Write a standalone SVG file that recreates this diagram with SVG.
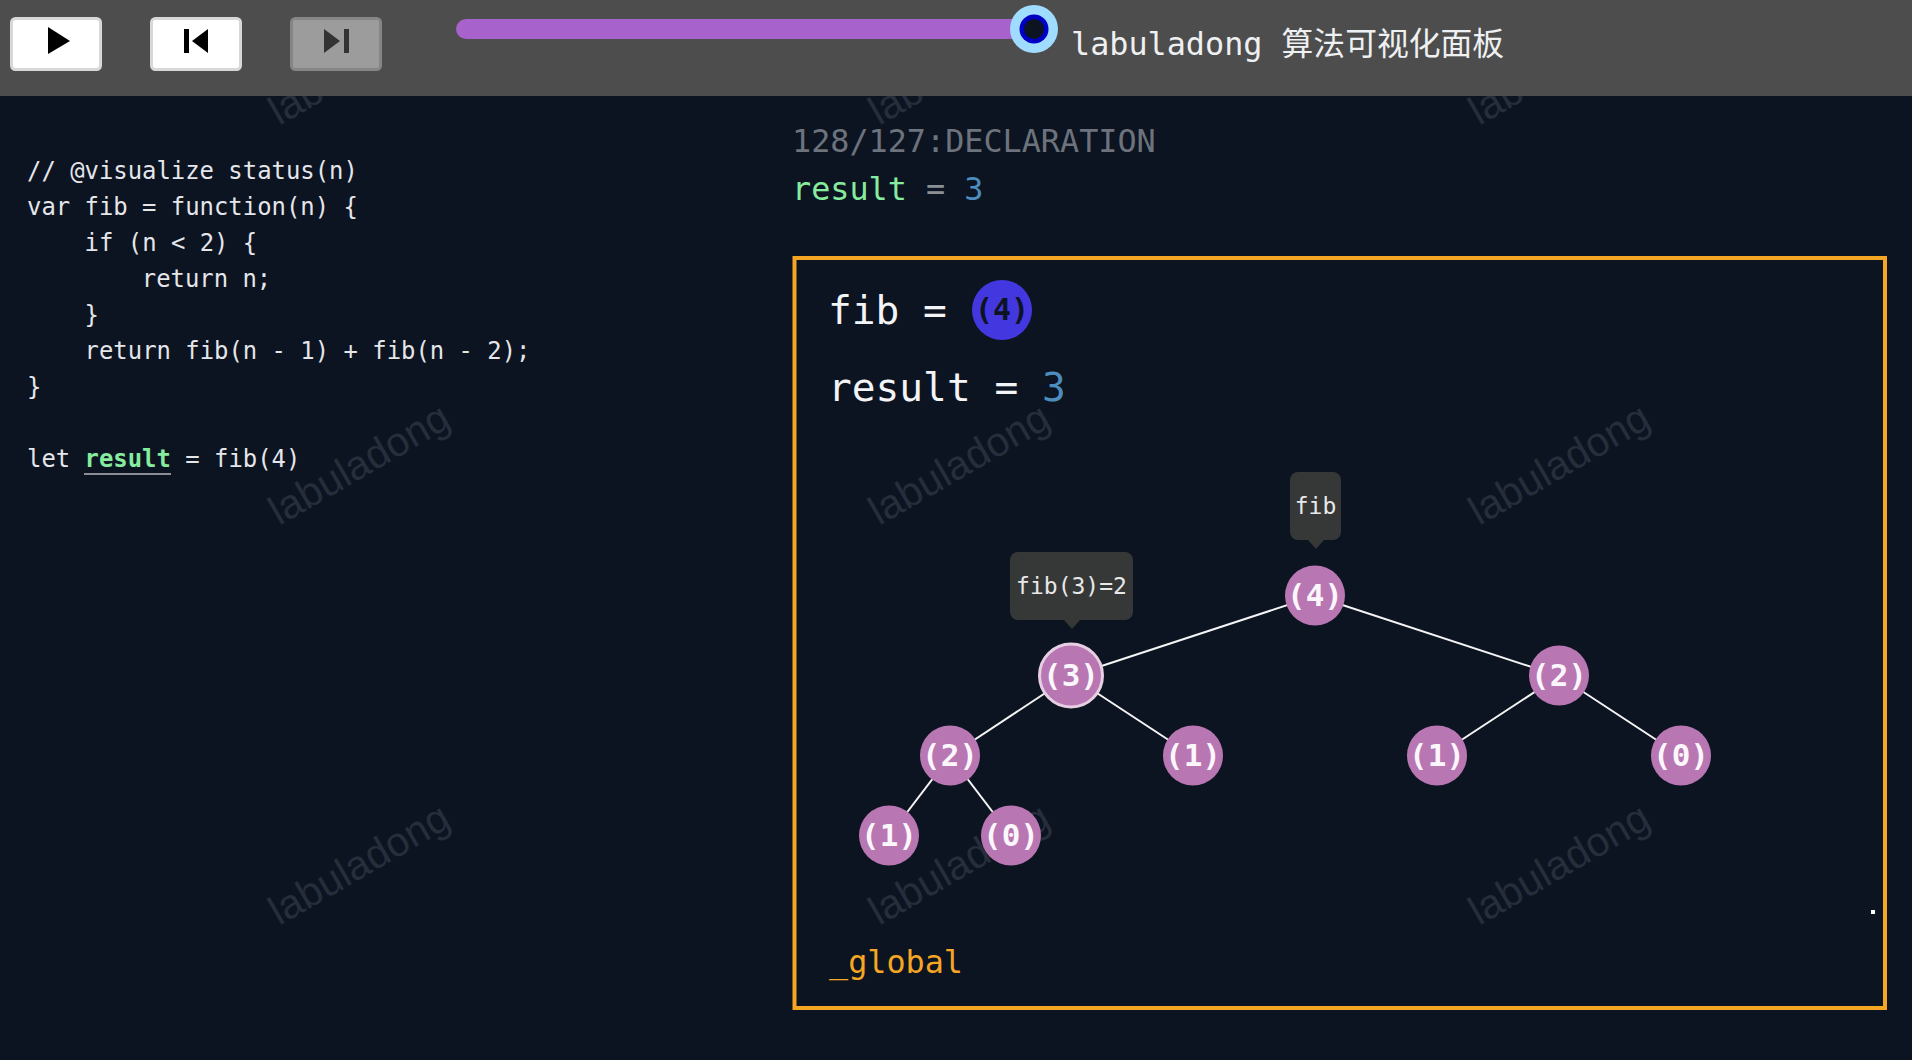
<svg xmlns="http://www.w3.org/2000/svg" width="1912" height="1060" viewBox="0 0 1912 1060">
<style>
text{font-family:"DejaVu Sans Mono","Noto Sans CJK SC",monospace;fill:#eef0f2}
.wm{font-family:"Liberation Sans",sans-serif;font-size:41px;fill:#262d3b}
.code{font-size:23.9px;fill:#e4e6ea}
.big{font-size:39.5px;fill:#f2f4f6}
.mid{font-size:31.8px}
.num{fill:#4d8dbd}
.grn{fill:#86eb9f}
.n circle{fill:#b877b2}
.n text{font-size:31px;font-weight:bold;text-anchor:middle;fill:#fbf6fb}
.tip path{fill:#363838}
.tip text{font-size:23px;text-anchor:middle;fill:#e8e8e8}
.btn{fill:#fff;stroke:#d8d8d8;stroke-width:3}
.edge{stroke:#f4f4f4;stroke-width:2}
</style>
<rect width="1912" height="1060" fill="#0c1321"/>
<g id="watermarks">
<text class="wm" transform="translate(279 126) rotate(-30)">lab</text>
<text class="wm" transform="translate(879 126) rotate(-30)">lab</text>
<text class="wm" transform="translate(1479 126) rotate(-30)">lab</text>
<text class="wm" transform="translate(279 526) rotate(-30)">labuladong</text>
<text class="wm" transform="translate(879 526) rotate(-30)">labuladong</text>
<text class="wm" transform="translate(1479 526) rotate(-30)">labuladong</text>
<text class="wm" transform="translate(279 926) rotate(-30)">labuladong</text>
<text class="wm" transform="translate(879 926) rotate(-30)">labuladong</text>
<text class="wm" transform="translate(1479 926) rotate(-30)">labuladong</text>
</g>
<g id="toolbar">
<rect width="1912" height="96" fill="#4d4d4d"/>
<rect class="btn" x="11.5" y="18.500" width="89" height="51" rx="4"/>
<path d="M48 27L70 41L48 54Z" fill="#000"/>
<rect class="btn" x="151.500" y="18.500" width="89" height="51" rx="4"/>
<path d="M184 29h5v24h-5zM208 29v24L192 41Z" fill="#000"/>
<rect x="291.500" y="18.500" width="89" height="51" rx="4" fill="#9c9c9c" stroke="#868686" stroke-width="3"/>
<path d="M344 29h5v24h-5zM324 29v24L340 41Z" fill="#333"/>
<rect x="456" y="19" width="580" height="20" rx="10" fill="#a862cc"/>
<circle cx="1034" cy="29" r="24" fill="#a0dcff"/>
<circle cx="1034" cy="29" r="14.500" fill="#0000c4"/>
<circle cx="1034" cy="29" r="10" fill="#0c1321"/>
<text x="1071" y="55" class="mid" fill="#fff">labuladong 算法可视化面板</text>
</g>
<g id="code" class="code">
<text class="code" x="27" y="179">// @visualize status(n)</text>
<text class="code" x="27" y="215">var fib = function(n) {</text>
<text class="code" x="84.600" y="251">if (n &lt; 2) {</text>
<text class="code" x="141.800" y="287">return n;</text>
<text class="code" x="84.600" y="323">}</text>
<text class="code" x="84.600" y="359">return fib(n - 1) + fib(n - 2);</text>
<text class="code" x="27" y="395">}</text>
<text class="code" x="27" y="467">let <tspan class="grn" font-weight="bold">result</tspan> = fib(4)</text>
<rect x="84" y="473" width="87" height="2" fill="#8a8d92"/>
</g>
<g id="status">
<text class="mid" x="792" y="152" style="fill:#6d737c">128/127:DECLARATION</text>
<text class="mid" x="792" y="200" style="fill:#8b9097"><tspan class="grn">result</tspan> = <tspan class="num">3</tspan></text>
</g>
<rect id="frame" x="794.500" y="258" width="1090.500" height="750" fill="none" stroke="#f5a623" stroke-width="4"/>
<g id="vars">
<text class="big" x="828" y="324">fib =</text>
<circle cx="1002" cy="310" r="30" fill="#4338e0"/>
<text x="1002" y="320" font-size="30" font-weight="bold" text-anchor="middle" style="fill:#0c1321">(4)</text>
<text class="big" x="828" y="401">result = <tspan class="num">3</tspan></text>
</g>
<g id="connectors" class="edge">
<line class="edge" x1="1315" y1="596" x2="1071" y2="676"/>
<line class="edge" x1="1315" y1="596" x2="1559" y2="676"/>
<line class="edge" x1="1071" y1="676" x2="950" y2="756"/>
<line class="edge" x1="1071" y1="676" x2="1193" y2="756"/>
<line class="edge" x1="1559" y1="676" x2="1437" y2="756"/>
<line class="edge" x1="1559" y1="676" x2="1681" y2="756"/>
<line class="edge" x1="950" y1="756" x2="889" y2="836"/>
<line class="edge" x1="950" y1="756" x2="1011" y2="836"/>
</g>
<g id="n4" class="n"><circle cx="1315" cy="595.500" r="30"/><text x="1315" y="606">(4)</text></g>
<g id="n3" class="n"><circle cx="1071" cy="675.500" r="31.500" stroke="#e6cfe3" stroke-width="3"/><text x="1071" y="686">(3)</text></g>
<g id="n2r" class="n"><circle cx="1559" cy="675.500" r="30"/><text x="1559" y="686">(2)</text></g>
<g id="n2l" class="n"><circle cx="950" cy="755.500" r="30"/><text x="950" y="766">(2)</text></g>
<g id="n1a" class="n"><circle cx="1193" cy="755.500" r="30"/><text x="1193" y="766">(1)</text></g>
<g id="n1b" class="n"><circle cx="1437" cy="755.500" r="30"/><text x="1437" y="766">(1)</text></g>
<g id="n0a" class="n"><circle cx="1681" cy="755.500" r="30"/><text x="1681" y="766">(0)</text></g>
<g id="n1c" class="n"><circle cx="889" cy="835.500" r="30"/><text x="889" y="846">(1)</text></g>
<g id="n0b" class="n"><circle cx="1011" cy="835.500" r="30"/><text x="1011" y="846">(0)</text></g>
<g id="tip-fib" class="tip">
<path d="M1298 472h35a8 8 0 0 1 8 8v52a8 8 0 0 1-8 8h-9l-8 9l-8-9h-10a8 8 0 0 1-8-8v-52a8 8 0 0 1 8-8z"/>
<text x="1315.500" y="514">fib</text>
</g>
<g id="tip-fib3" class="tip">
<path d="M1018 552h107a8 8 0 0 1 8 8v52a8 8 0 0 1-8 8h-45l-8 9l-8-9h-46a8 8 0 0 1-8-8v-52a8 8 0 0 1 8-8z"/>
<text x="1071.500" y="594">fib(3)=2</text>
</g>
<text id="scope" x="829" y="973" class="mid" style="fill:#f5a623">_global</text>
<rect id="dot" x="1871" y="910" width="4" height="4" fill="#fff"/>
</svg>
